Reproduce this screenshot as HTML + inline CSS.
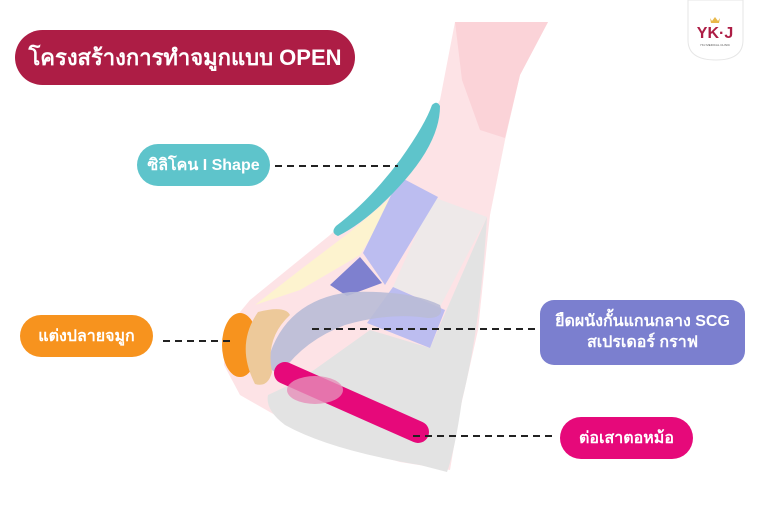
<!DOCTYPE html>
<html><head><meta charset="utf-8"><style>
body{margin:0;width:768px;height:512px;background:#fff;overflow:hidden;position:relative;font-family:"Liberation Sans","Noto Sans CJK SC",sans-serif}
.p{position:absolute;color:#fff;font-weight:bold;display:flex;align-items:center;justify-content:center;text-align:center}
</style></head><body>
<svg width="768" height="512" style="position:absolute;left:0;top:0">
<path d="M455,22 L548,22 L520,75 L505,140 L490,215 L478,330 L460,410 L450,470 L400,462 L320,440 L275,415 L240,395 L224,365 L225,330 L250,300 L330,235 L400,170 L440,100 Z" fill="#fde3e6"/>
<path d="M455,22 L548,22 L520,75 L505,138 L480,130 L462,80 Z" fill="#fbd3d8"/>
<path d="M487,217 Q480,330 462,400 Q455,450 447,472 L420,465 Q330,450 285,425 Q265,410 268,395 L300,380 L370,330 L430,348 Z" fill="#e3e3e3"/>
<path d="M400,190 L360,255 L300,290 L255,305 L300,270 L350,232 Z" fill="#fdf3cf"/>
<path d="M433,197 L487,217 L440,307 L393,287 Z" fill="#eee9e9"/>
<path d="M400,177 L438,197 L385,285 L363,253 Z" fill="#bcbdf0"/>
<path d="M393,287 L445,310 L430,348 L367,323 Z" fill="#bcbdf0"/>
<path d="M360,257 L382,283 L347,296 L330,285 Z" fill="#7e80cf"/>
<path d="M440,106 Q440,140 405,180 Q370,220 338,236 Q330,233 336,226 Q370,200 400,160 Q425,125 432,105 Q437,100 440,106 Z" fill="#5ec4cb"/>
<path d="M268,360 Q285,300 350,292 Q410,290 440,305 Q445,318 428,318 Q390,312 345,325 Q305,340 282,372 Q270,375 268,360 Z" fill="#b9bbd6" opacity=".9"/>
<ellipse cx="240" cy="345" rx="18" ry="32" fill="#f7931e"/>
<path d="M258,312 Q285,305 290,315 Q265,338 272,372 Q268,388 255,384 Q235,345 258,312 Z" fill="#edc99a"/>
<line x1="285" y1="373" x2="418" y2="432" stroke="#e6097a" stroke-width="22" stroke-linecap="round"/>
<ellipse cx="315" cy="390" rx="28" ry="14" fill="#e68fb9" opacity=".8"/>
<g stroke="#222" stroke-width="2" stroke-dasharray="7,5">
<line x1="275" y1="166" x2="398" y2="166"/>
<line x1="163" y1="341" x2="232" y2="341"/>
<line x1="312" y1="329" x2="535" y2="329"/>
<line x1="413" y1="436" x2="555" y2="436"/>
</g>
<path d="M688,0 L743,0 L743,40 Q743,60 716,60 Q688,60 688,40 Z" fill="#fff" stroke="#e6e6e6"/>
<path d="M710,18 L712,21 L715,17 L718,21 L720,18 L719,23 L711,23 Z" fill="#e8b84a"/>
<text x="715" y="38" font-family="Liberation Sans,sans-serif" font-size="16" font-weight="bold" fill="#ad1d45" text-anchor="middle">YK·J</text>
<text x="715" y="46" font-size="3" fill="#555" text-anchor="middle">YKJ MEDICAL CLINIC</text>
</svg>
<div class="p" style="left:15px;top:30px;width:340px;height:55px;border-radius:28px;background:#ad1d45;font-size:22px">โครงสร้างการทำจมูกแบบ OPEN</div>
<div class="p" style="left:137px;top:144px;width:133px;height:42px;border-radius:21px;background:#5ec4cb;font-size:16px">ซิลิโคน I Shape</div>
<div class="p" style="left:20px;top:315px;width:133px;height:42px;border-radius:21px;background:#f7931e;font-size:16px">แต่งปลายจมูก</div>
<div class="p" style="left:540px;top:300px;width:205px;height:65px;border-radius:14px;background:#7b7fcf;font-size:16px;line-height:1.3">ยืดผนังกั้นแกนกลาง SCG<br>สเปรเดอร์ กราฟ</div>
<div class="p" style="left:560px;top:417px;width:133px;height:42px;border-radius:21px;background:#e6097a;font-size:16px">ต่อเสาตอหม้อ</div>
</body></html>
